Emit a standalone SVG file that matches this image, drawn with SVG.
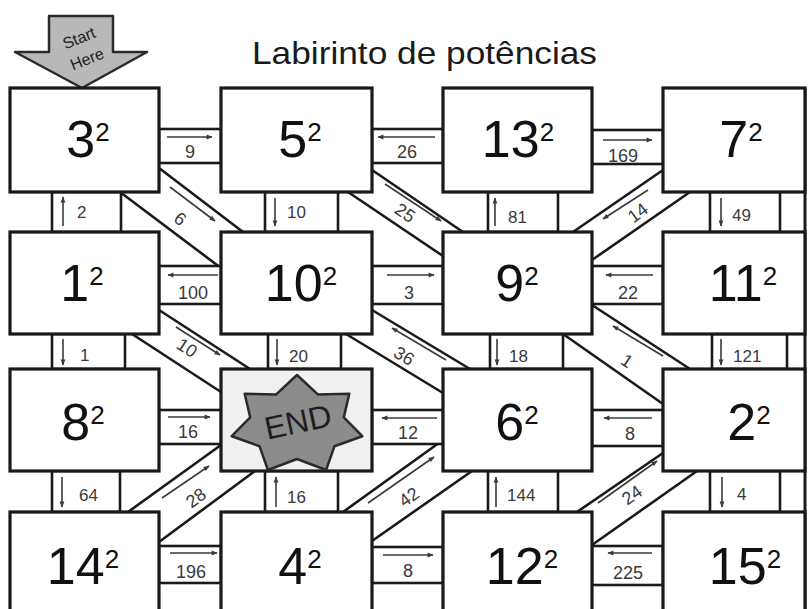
<svg xmlns="http://www.w3.org/2000/svg" width="808" height="609" viewBox="0 0 808 609">
<defs>
<style>
.box{fill:#fff;stroke:#1a1a1a;stroke-width:3.2}
.con{fill:#fff;stroke:#1a1a1a;stroke-width:2.6}
.strip{fill:#fff;stroke:#1a1a1a;stroke-width:2.6;stroke-linejoin:round}
.ar{stroke:#3a3a3a;stroke-width:1.6;fill:none;marker-end:url(#ah)}
.num{font-family:"Liberation Sans","DejaVu Sans",sans-serif;font-size:52px;fill:#111;text-anchor:middle}
.sup{font-size:26px}
.lb{font-family:"Liberation Sans","DejaVu Sans",sans-serif;font-size:18px;fill:#3a3a3a;text-anchor:middle}
.lv{font-family:"Liberation Sans","DejaVu Sans",sans-serif;font-size:17px;fill:#3a3a3a}
.ld{font-family:"Liberation Sans","DejaVu Sans",sans-serif;font-size:18px;fill:#3a3a3a;text-anchor:middle;dominant-baseline:central}
.st{font-family:"Liberation Sans","DejaVu Sans",sans-serif;font-size:16px;fill:#222;text-anchor:middle;dominant-baseline:central}
</style>
<marker id="ah" viewBox="0 0 10 10" refX="9" refY="5" markerWidth="7" markerHeight="6" markerUnits="userSpaceOnUse" orient="auto">
<path d="M0,1 L10,5 L0,9 z" fill="#3a3a3a"/>
</marker>
</defs>
<rect x="0" y="0" width="808" height="609" fill="#fff"/>

<text x="252" y="64" font-family="'Liberation Sans','DejaVu Sans',sans-serif" font-size="32" fill="#1a1a1a" textLength="345" lengthAdjust="spacingAndGlyphs">Labirinto de potências</text>

<g id="start">
<polygon points="49,16 113,16 113,52 147,52 82,88 15,52 49,52" fill="#b8b8b8" stroke="#2a2a2a" stroke-width="2.5" stroke-linejoin="round"/>
<text class="st" x="79" y="38" transform="rotate(-22 79 38)">Start</text>
<text class="st" x="87" y="59" transform="rotate(-22 87 59)">Here</text>
</g>

<g id="connectors">
<polygon class="strip" points="159,168 243,232 221,268 120,192"/>
<polygon class="strip" points="372,170 463,232 443,256 348,192"/>
<polygon class="strip" points="663,170 573,232 592,260 690,192"/>
<polygon class="strip" points="159,310 250,369 221,392 132,334"/>
<polygon class="strip" points="372,310 470,369 443,393 346,334"/>
<polygon class="strip" points="592,305 690,369 663,404 563,334"/>
<polygon class="strip" points="128,512 221,445 255,471 159,542"/>
<polygon class="strip" points="343,512 443,440 472,471 372,541"/>
<polygon class="strip" points="577,512 663,453 697,471 592,545"/>
<rect class="con" x="159" y="129" width="62" height="34"/>
<rect class="con" x="372" y="129" width="71" height="34"/>
<rect class="con" x="592" y="130" width="71" height="34"/>
<rect class="con" x="159" y="266" width="62" height="38"/>
<rect class="con" x="372" y="266" width="71" height="38"/>
<rect class="con" x="592" y="266" width="71" height="38"/>
<rect class="con" x="159" y="410" width="62" height="34"/>
<rect class="con" x="372" y="410" width="71" height="34"/>
<rect class="con" x="592" y="410" width="71" height="36"/>
<rect class="con" x="159" y="546" width="62" height="37"/>
<rect class="con" x="372" y="547" width="71" height="36"/>
<rect class="con" x="592" y="546" width="71" height="39"/>
<rect class="con" x="52" y="192" width="69" height="40"/>
<rect class="con" x="265" y="192" width="73" height="40"/>
<rect class="con" x="488" y="192" width="70" height="40"/>
<rect class="con" x="710" y="192" width="70" height="40"/>
<rect class="con" x="52" y="334" width="73" height="35"/>
<rect class="con" x="268" y="334" width="73" height="35"/>
<rect class="con" x="490" y="334" width="73" height="35"/>
<rect class="con" x="712" y="334" width="75" height="35"/>
<rect class="con" x="52" y="471" width="68" height="41"/>
<rect class="con" x="265" y="471" width="73" height="41"/>
<rect class="con" x="488" y="471" width="70" height="41"/>
<rect class="con" x="710" y="471" width="70" height="41"/>
<line x1="805" y1="88" x2="805" y2="609" stroke="#1a1a1a" stroke-width="3"/>

<path class="ar" d="M167,137 L212,137"/>
<path class="ar" d="M435,137 L378,137"/>
<path class="ar" d="M603,140 L652,140"/>
<path class="ar" d="M218,275 L168,275"/>
<path class="ar" d="M387,275 L434,275"/>
<path class="ar" d="M653,275 L606,275"/>
<path class="ar" d="M168,417 L210,417"/>
<path class="ar" d="M437,418 L382,418"/>
<path class="ar" d="M652,418 L604,418"/>
<path class="ar" d="M170,553 L217,553"/>
<path class="ar" d="M383,555 L433,555"/>
<path class="ar" d="M652,553 L608,553"/>
<path class="ar" d="M63,226 L63,197"/>
<path class="ar" d="M275,198 L275,226"/>
<path class="ar" d="M495,226 L495,198"/>
<path class="ar" d="M721,198 L721,226"/>
<path class="ar" d="M63,339 L63,365"/>
<path class="ar" d="M277,339 L277,365"/>
<path class="ar" d="M497,339 L497,365"/>
<path class="ar" d="M721,339 L721,365"/>
<path class="ar" d="M62,477 L62,507"/>
<path class="ar" d="M276,507 L276,477"/>
<path class="ar" d="M496,507 L496,477"/>
<path class="ar" d="M722,477 L722,507"/>
<path class="ar" d="M170,187 L215,221"/>
<path class="ar" d="M385,184 L441,221"/>
<path class="ar" d="M648,190 L603,219"/>
<path class="ar" d="M176,327 L220,355"/>
<path class="ar" d="M446,360 L392,328"/>
<path class="ar" d="M663,356 L613,326"/>
<path class="ar" d="M162,498 L209,466"/>
<path class="ar" d="M368,503 L434,457"/>
<path class="ar" d="M598,503 L657,461"/>

<text class="lb" x="190" y="158">9</text>
<text class="lb" x="407" y="158">26</text>
<text class="lb" x="623" y="162">169</text>
<text class="lb" x="193" y="299">100</text>
<text class="lb" x="409" y="299">3</text>
<text class="lb" x="628" y="299">22</text>
<text class="lb" x="188" y="438">16</text>
<text class="lb" x="408" y="439">12</text>
<text class="lb" x="630" y="440">8</text>
<text class="lb" x="191" y="578">196</text>
<text class="lb" x="408" y="577">8</text>
<text class="lb" x="628" y="579">225</text>
<text class="lv" x="77" y="218">2</text>
<text class="lv" x="287" y="218">10</text>
<text class="lv" x="508" y="223">81</text>
<text class="lv" x="732" y="221">49</text>
<text class="lv" x="80" y="361">1</text>
<text class="lv" x="289" y="362">20</text>
<text class="lv" x="509" y="362">18</text>
<text class="lv" x="733" y="362">121</text>
<text class="lv" x="79" y="501">64</text>
<text class="lv" x="287" y="503">16</text>
<text class="lv" x="507" y="501">144</text>
<text class="lv" x="737" y="500">4</text>
<text class="ld" x="180" y="219" transform="rotate(37 180 219)">6</text>
<text class="ld" x="405" y="213" transform="rotate(34 405 213)">25</text>
<text class="ld" x="638" y="213" transform="rotate(-37 638 213)">14</text>
<text class="ld" x="187" y="348" transform="rotate(33 187 348)">10</text>
<text class="ld" x="404" y="356" transform="rotate(31 404 356)">36</text>
<text class="ld" x="627" y="361" transform="rotate(33 627 361)">1</text>
<text class="ld" x="196" y="498" transform="rotate(-36 196 498)">28</text>
<text class="ld" x="409" y="497" transform="rotate(-35 409 497)">42</text>
<text class="ld" x="632" y="495" transform="rotate(-35 632 495)">24</text>
</g>

<g id="n-3"><rect class="box" x="10" y="88" width="149" height="104"/><text class="num" x="88" y="157">3<tspan class="sup" dy="-16">2</tspan></text></g>
<g id="n-5"><rect class="box" x="221" y="88" width="151" height="104"/><text class="num" x="300" y="157">5<tspan class="sup" dy="-16">2</tspan></text></g>
<g id="n-13"><rect class="box" x="443" y="88" width="149" height="104"/><text class="num" x="518" y="157">13<tspan class="sup" dy="-16">2</tspan></text></g>
<g id="n-7"><rect class="box" x="663" y="88" width="142" height="104"/><text class="num" x="741" y="157">7<tspan class="sup" dy="-16">2</tspan></text></g>

<g id="n-1"><rect class="box" x="10" y="232" width="149" height="102"/><text class="num" x="82" y="301">1<tspan class="sup" dy="-16">2</tspan></text></g>
<g id="n-10"><rect class="box" x="221" y="232" width="151" height="102"/><text class="num" x="301" y="301">10<tspan class="sup" dy="-16">2</tspan></text></g>
<g id="n-9"><rect class="box" x="443" y="232" width="149" height="102"/><text class="num" x="517" y="301">9<tspan class="sup" dy="-16">2</tspan></text></g>
<g id="n-11"><rect class="box" x="663" y="232" width="142" height="102"/><text class="num" x="743" y="301">11<tspan class="sup" dy="-16">2</tspan></text></g>

<g id="n-8"><rect class="box" x="10" y="369" width="149" height="102"/><text class="num" x="83" y="440">8<tspan class="sup" dy="-16">2</tspan></text></g>
<g id="n-end"><rect class="box" x="221" y="369" width="151" height="102" style="fill:#f1f1f1"/>
<polygon points="297,375 317.8,394.4 349.3,393.8 343.8,417.4 362.3,436.2 334.5,446.2 326.1,470 297,459 267.9,470 259.5,446.2 231.7,436.2 250.2,417.4 244.7,393.8 276.2,394.4" fill="#8c8c8c" stroke="#2a2a2a" stroke-width="2.5" stroke-linejoin="round"/>
<text x="298" y="422" font-family="'Liberation Sans','DejaVu Sans',sans-serif" font-size="32" fill="#1e1e1e" text-anchor="middle" dominant-baseline="central" transform="rotate(-12 298 422)">END</text></g>
<g id="n-6"><rect class="box" x="443" y="369" width="149" height="102"/><text class="num" x="517" y="440">6<tspan class="sup" dy="-16">2</tspan></text></g>
<g id="n-2"><rect class="box" x="663" y="369" width="142" height="102"/><text class="num" x="749" y="440">2<tspan class="sup" dy="-16">2</tspan></text></g>

<g id="n-14"><rect class="box" x="10" y="512" width="149" height="110"/><text class="num" x="83" y="584">14<tspan class="sup" dy="-16">2</tspan></text></g>
<g id="n-4"><rect class="box" x="221" y="512" width="151" height="110"/><text class="num" x="300" y="584">4<tspan class="sup" dy="-16">2</tspan></text></g>
<g id="n-12"><rect class="box" x="443" y="512" width="149" height="110"/><text class="num" x="522" y="584">12<tspan class="sup" dy="-16">2</tspan></text></g>
<g id="n-15"><rect class="box" x="663" y="512" width="142" height="110"/><text class="num" x="745" y="584">15<tspan class="sup" dy="-16">2</tspan></text></g>
</svg>
